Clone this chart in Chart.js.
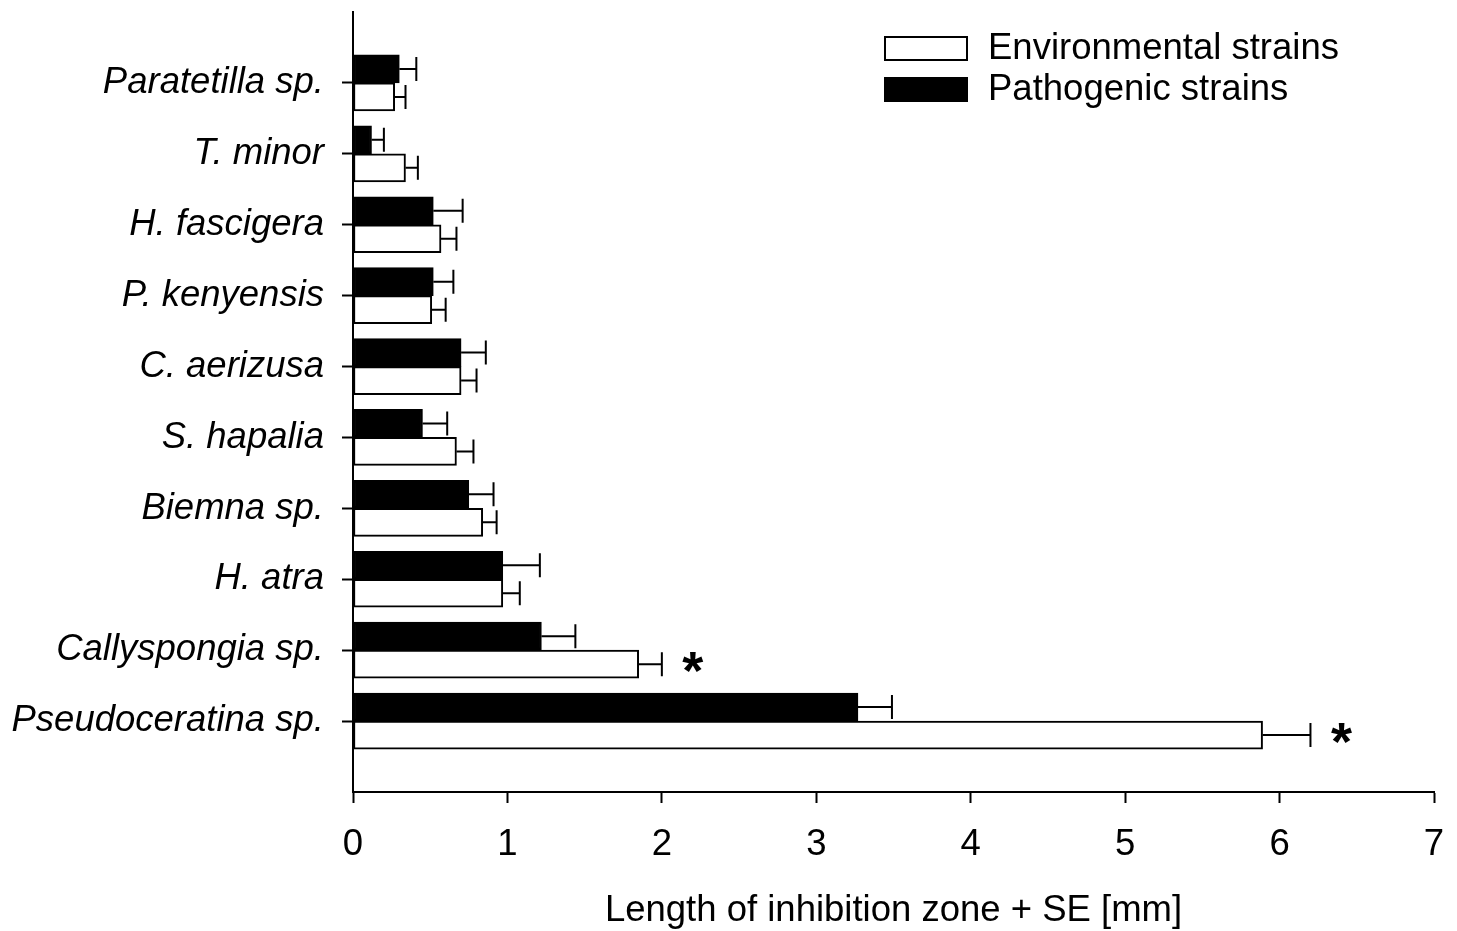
<!DOCTYPE html>
<html>
<head>
<meta charset="utf-8">
<script src="https://cdn.jsdelivr.net/npm/chart.js@4"></script>
<style>
  body { margin: 0; background: #fff; }
</style>
</head>
<body>
<canvas id="chart" width="1457" height="931"></canvas>
<script>
// Inhibition zone lengths (mm) per sponge / holothurian species
const species = ['Paratetilla sp.', 'T. minor', 'H. fascigera', 'P. kenyensis', 'C. aerizusa',
                 'S. hapalia', 'Biemna sp.', 'H. atra', 'Callyspongia sp.', 'Pseudoceratina sp.'];
const environmental   = [0.27, 0.34, 0.57, 0.51, 0.70, 0.67, 0.84, 0.97, 1.85, 5.89];
const environmentalSE = [0.07, 0.08, 0.10, 0.09, 0.10, 0.11, 0.09, 0.11, 0.15, 0.31];
const pathogenic      = [0.30, 0.12, 0.52, 0.52, 0.70, 0.45, 0.75, 0.97, 1.22, 3.27];
const pathogenicSE    = [0.11, 0.08, 0.19, 0.13, 0.16, 0.16, 0.16, 0.24, 0.22, 0.22];
const significant     = ['', '', '', '', '', '', '', '', '*', '*'];
const xTicks = [0, 1, 2, 3, 4, 5, 6, 7];

// padded labels so the categories sit one slot in from each end of the axis
const labels = [''].concat(species, ['']);
const pad = arr => [null].concat(arr, [null]);

const FONT = 'Liberation Sans';
const SIZE = 36.5;

const errorBars = {
  id: 'errorBars',
  afterDatasetsDraw(chart) {
    const ctx = chart.ctx;
    const x = chart.scales.x;
    ctx.save();
    ctx.strokeStyle = '#000';
    ctx.lineWidth = 2;
    chart.data.datasets.forEach((ds, di) => {
      const meta = chart.getDatasetMeta(di);
      meta.data.forEach((bar, i) => {
        const v = ds.data[i];
        if (v == null) return;
        const xe = x.getPixelForValue(v + ds.se[i]);
        ctx.beginPath();
        ctx.moveTo(bar.x, bar.y);
        ctx.lineTo(xe, bar.y);
        ctx.moveTo(xe, bar.y - 12);
        ctx.lineTo(xe, bar.y + 12);
        ctx.stroke();
        if (ds.stars && ds.stars[i]) {
          ctx.fillStyle = '#000';
          ctx.font = 'bold 54px "' + FONT + '"';
          ctx.textAlign = 'center';
          ctx.textBaseline = 'middle';
          ctx.fillText(ds.stars[i], xe + 31, bar.y + 10);
        }
      });
    });
    ctx.restore();
  }
};

const insideLegend = {
  id: 'insideLegend',
  afterDraw(chart) {
    const ctx = chart.ctx;
    const order = [1, 0];
    ctx.save();
    ctx.font = SIZE + 'px "' + FONT + '"';
    ctx.textBaseline = 'middle';
    ctx.textAlign = 'left';
    order.forEach((di, k) => {
      const ds = chart.data.datasets[di];
      const top = 37 + k * 41;
      ctx.fillStyle = ds.backgroundColor;
      ctx.fillRect(885, top, 82, 23);
      ctx.strokeStyle = '#000';
      ctx.lineWidth = 2;
      ctx.strokeRect(885, top, 82, 23);
      ctx.fillStyle = '#000';
      ctx.fillText(ds.label, 988, top + 12);
    });
    ctx.restore();
  }
};

new Chart(document.getElementById('chart'), {
  type: 'bar',
  data: {
    labels: labels,
    datasets: [
      {
        label: 'Pathogenic strains',
        data: pad(pathogenic),
        se: pad(pathogenicSE),
        backgroundColor: '#000',
        borderColor: '#000',
        borderWidth: 2,
        borderSkipped: false,
        barThickness: 28
      },
      {
        label: 'Environmental strains',
        data: pad(environmental),
        se: pad(environmentalSE),
        stars: pad(significant),
        backgroundColor: '#fff',
        borderColor: '#000',
        borderWidth: 2,
        borderSkipped: false,
        barThickness: 28
      }
    ]
  },
  options: {
    indexAxis: 'y',
    responsive: false,
    animation: false,
    layout: { padding: { top: 12, right: 23, left: 0, bottom: 0 } },
    plugins: { legend: { display: false }, tooltip: { enabled: false } },
    scales: {
      x: {
        min: 0,
        max: 7,
        afterBuildTicks: s => { s.ticks = xTicks.map(v => ({ value: v })); },
        afterFit: s => { s.height = 139; s.paddingLeft = 0; s.paddingRight = 0; },
        border: { color: '#000', width: 2 },
        grid: { drawOnChartArea: false, tickLength: 11, tickColor: '#000', tickWidth: 2 },
        ticks: { color: '#000', font: { family: FONT, size: SIZE }, padding: 20 },
        title: {
          display: true,
          text: 'Length of inhibition zone + SE [mm]',
          color: '#000',
          font: { family: FONT, size: SIZE, lineHeight: 1.1 },
          padding: { top: 20, bottom: 0 }
        }
      },
      y: {
        offset: false,
        afterFit: s => { s.width = 353; s.paddingTop = 0; s.paddingBottom = 0; },
        border: { color: '#000', width: 2 },
        grid: {
          offset: false,
          drawOnChartArea: false,
          tickLength: 11,
          tickWidth: 2,
          tickColor: c => (c.index === 0 || c.index === labels.length - 1) ? 'rgba(0,0,0,0)' : '#000'
        },
        ticks: {
          color: '#000',
          font: { family: FONT, size: SIZE, style: 'italic' },
          padding: 18,
          autoSkip: false
        }
      }
    }
  },
  plugins: [errorBars, insideLegend]
});
</script>
</body>
</html>
